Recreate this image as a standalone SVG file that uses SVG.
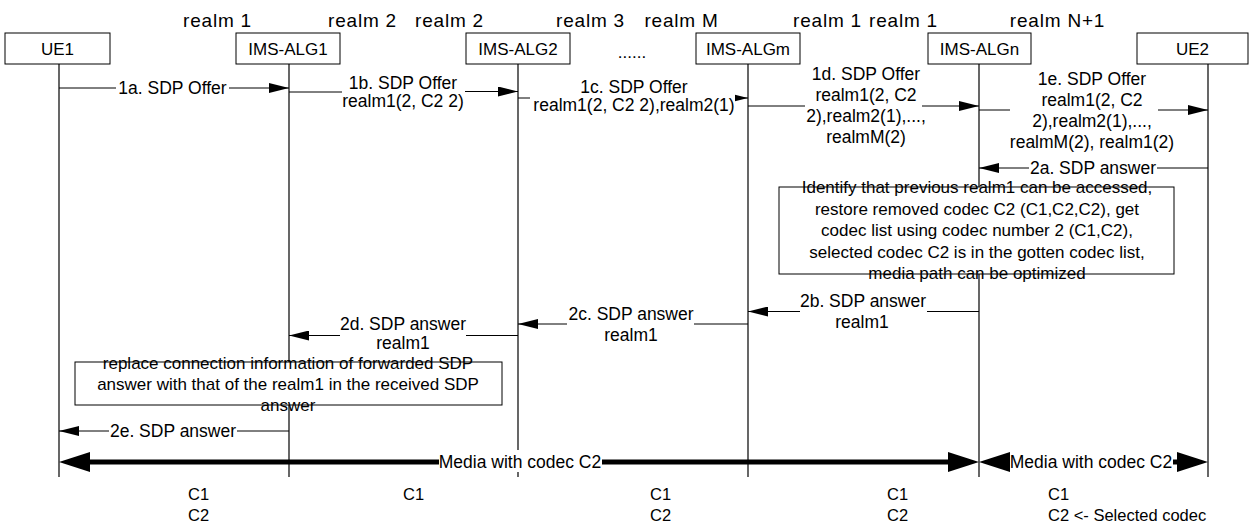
<svg xmlns="http://www.w3.org/2000/svg" width="1260" height="524" viewBox="0 0 1260 524">
<style>
text{font-family:"Liberation Sans",Arial,Helvetica,sans-serif;fill:#000}
.realm{font-size:19px;text-anchor:middle;letter-spacing:0.8px}
.node rect{fill:#fff;stroke:#000;stroke-width:1}
.node text{font-size:17px;text-anchor:middle}
.life{stroke:#000;stroke-width:1.2;fill:none}
.msg{stroke:#000;stroke-width:1;fill:none}
.lbl{font-size:17.5px;text-anchor:middle}
.note rect{fill:#fff;stroke:#000;stroke-width:1}
.note text{font-size:17px;text-anchor:middle}
.media{stroke:#000;stroke-width:5;fill:none}
.bg{fill:#fff;stroke:none}
.codec{font-size:16.5px}
</style>
<defs>
<marker id="ah" markerUnits="userSpaceOnUse" markerWidth="20" markerHeight="10" refX="20" refY="5" orient="auto"><path d="M0,0L20,5L0,10z" fill="#000"/></marker>
<marker id="ahs" markerUnits="userSpaceOnUse" markerWidth="13" markerHeight="10" refX="13" refY="5" orient="auto"><path d="M0,1.75L13,5L0,8.25z" fill="#000"/></marker>
<marker id="big" markerUnits="userSpaceOnUse" markerWidth="31" markerHeight="20" refX="22" refY="10" orient="auto-start-reverse"><path d="M0,0L31,10L0,20z" fill="#000"/></marker>
</defs>

<g id="realms">
<text class="realm" x="217.5" y="27">realm 1</text>
<text class="realm" x="362.5" y="27">realm 2</text>
<text class="realm" x="449.5" y="27">realm 2</text>
<text class="realm" x="590.5" y="27">realm 3</text>
<text class="realm" x="681.5" y="27">realm M</text>
<text class="realm" x="827.5" y="27">realm 1</text>
<text class="realm" x="903.5" y="27">realm 1</text>
<text class="realm" x="1057.5" y="27">realm N+1</text>
</g>

<g id="UE1" class="node">
<line class="life" x1="59" y1="64" x2="59" y2="477"/>
<rect x="5" y="33" width="105" height="31"/>
<text x="57.5" y="55">UE1</text>
</g>
<g id="IMS-ALG1" class="node">
<line class="life" x1="289" y1="64" x2="289" y2="477"/>
<rect x="236" y="33" width="104" height="31"/>
<text x="288" y="55">IMS-ALG1</text>
</g>
<g id="IMS-ALG2" class="node">
<line class="life" x1="518" y1="64" x2="518" y2="477"/>
<rect x="466" y="33" width="104" height="31"/>
<text x="518" y="55">IMS-ALG2</text>
</g>
<g id="dots">
<text x="632" y="58" style="font-size:17px;text-anchor:middle">......</text>
</g>
<g id="IMS-ALGm" class="node">
<line class="life" x1="748" y1="64" x2="748" y2="477"/>
<rect x="696" y="33" width="104" height="31"/>
<text x="748" y="55">IMS-ALGm</text>
</g>
<g id="IMS-ALGn" class="node">
<line class="life" x1="979" y1="64" x2="979" y2="477"/>
<rect x="928" y="33" width="103" height="31"/>
<text x="979.5" y="55">IMS-ALGn</text>
</g>
<g id="UE2" class="node">
<line class="life" x1="1208" y1="64" x2="1208" y2="477"/>
<rect x="1137" y="33" width="111" height="31"/>
<text x="1192.5" y="55">UE2</text>
</g>

<g id="note-algn" class="note">
<rect x="779" y="187" width="395" height="87"/>
<text x="977" y="193">Identify that previous realm1 can be accessed,</text>
<text x="977" y="214.5">restore removed codec C2 (C1,C2,C2), get</text>
<text x="977" y="236">codec list using codec number 2 (C1,C2),</text>
<text x="977" y="257.5">selected codec C2 is in the gotten codec list,</text>
<text x="977" y="279">media path can be optimized</text>
</g>

<g id="note-alg1" class="note">
<rect x="75" y="362" width="427" height="43"/>
<text x="288" y="369">replace connection information of forwarded SDP</text>
<text x="288" y="390">answer with that of the realm1 in the received SDP</text>
<text x="288" y="411">answer</text>
</g>

<g id="connectors">
<g id="m1a">
<path class="msg" d="M59,88H116M229,88H289" marker-end="url(#ah)"/>
<text class="lbl" x="172.5" y="94">1a. SDP Offer</text>
</g>
<g id="m1b">
<path class="msg" d="M289,92H342"/>
<path class="msg" d="M465,91.5H518" marker-end="url(#ah)"/>
<text class="lbl" x="403" y="89">1b. SDP Offer</text>
<text class="lbl" x="403" y="107">realm1(2, C2 2)</text>
</g>
<g id="m1c">
<path class="msg" d="M518,98H530"/>
<path class="msg" d="M735,98H748" marker-end="url(#ahs)"/>
<text class="lbl" x="634" y="93">1c. SDP Offer</text>
<text class="lbl" x="634" y="111">realm1(2, C2 2),realm2(1)</text>
</g>
<g id="m1d">
<path class="msg" d="M748,106H805"/>
<path class="msg" d="M922,106H979" marker-end="url(#ah)"/>
<text class="lbl" x="866" y="80">1d. SDP Offer</text>
<text class="lbl" x="866" y="101">realm1(2, C2</text>
<text class="lbl" x="866" y="122">2),realm2(1),...,</text>
<text class="lbl" x="866" y="143">realmM(2)</text>
</g>
<g id="m1e">
<path class="msg" d="M979,110H1010"/>
<path class="msg" d="M1158,110H1208" marker-end="url(#ah)"/>
<text class="lbl" x="1092" y="85">1e. SDP Offer</text>
<text class="lbl" x="1092" y="106">realm1(2, C2</text>
<text class="lbl" x="1092" y="127">2),realm2(1),...,</text>
<text class="lbl" x="1092" y="148">realmM(2), realm1(2)</text>
</g>
<g id="m2a">
<path class="msg" d="M1208,168H1157"/>
<path class="msg" d="M1029,168H979" marker-end="url(#ah)"/>
<text class="lbl" x="1093" y="174">2a. SDP answer</text>
</g>
<g id="m2b">
<path class="msg" d="M979,311.5H927"/>
<path class="msg" d="M800,311.5H748" marker-end="url(#ah)"/>
<text class="lbl" x="863" y="307">2b. SDP answer</text>
<text class="lbl" x="862" y="328">realm1</text>
</g>
<g id="m2c">
<path class="msg" d="M748,324H694"/>
<path class="msg" d="M567,324H518" marker-end="url(#ah)"/>
<text class="lbl" x="631" y="319.5">2c. SDP answer</text>
<text class="lbl" x="631" y="341">realm1</text>
</g>
<g id="m2d">
<path class="msg" d="M518,335.5H466"/>
<path class="msg" d="M340,335.5H289" marker-end="url(#ah)"/>
<text class="lbl" x="403" y="330">2d. SDP answer</text>
<text class="lbl" x="403" y="349">realm1</text>
</g>
<g id="m2e">
<path class="msg" d="M289,431H237"/>
<path class="msg" d="M109,431H59" marker-end="url(#ah)"/>
<text class="lbl" x="173" y="437">2e. SDP answer</text>
</g>
<g id="media1">
<path class="media" d="M68,462H439" marker-start="url(#big)"/>
<path class="media" d="M602,462H970" marker-end="url(#big)"/>
<rect class="bg" x="439" y="450" width="163" height="22"/>
<text class="lbl" x="520" y="468">Media with codec C2</text>
</g>
<g id="media2">
<path class="media" d="M988,462H1010" marker-start="url(#big)"/>
<path class="media" d="M1173,462H1199" marker-end="url(#big)"/>
<text class="lbl" x="1091" y="468">Media with codec C2</text>
</g>
</g>

<g id="codecs" class="codec">
<text x="188" y="499.5">C1</text>
<text x="188" y="520.5">C2</text>
<text x="403" y="499.5">C1</text>
<text x="650" y="499.5">C1</text>
<text x="650" y="520.5">C2</text>
<text x="887" y="499.5">C1</text>
<text x="887" y="520.5">C2</text>
<text x="1048" y="499.5">C1</text>
<text x="1048" y="520.5">C2 &lt;- Selected codec</text>
</g>
</svg>
